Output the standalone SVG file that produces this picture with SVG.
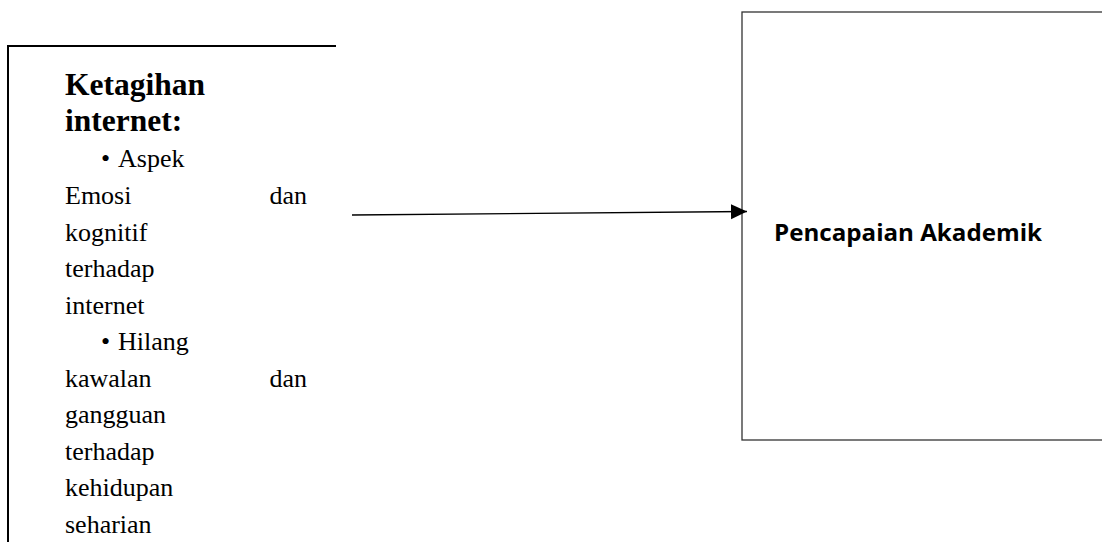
<svg xmlns="http://www.w3.org/2000/svg" width="1102" height="542" viewBox="0 0 1102 542">
<style>
.t{font-family:"Liberation Serif","Times New Roman",serif;font-size:26px;fill:#000}
.b{font-family:"Liberation Serif","Times New Roman",serif;font-size:31.5px;font-weight:bold;fill:#000}
.s{font-family:"Open Sans","Liberation Sans",sans-serif;font-size:24px;font-weight:bold;fill:#000}
</style>
<defs>
<marker id="ah" markerWidth="16" markerHeight="16" refX="16" refY="7.5" orient="auto" markerUnits="userSpaceOnUse">
<path d="M0,0 L16,7.5 L0,15 Z" fill="#000"/>
</marker>
</defs>
<rect width="1102" height="542" fill="#fff"/>
<g id="node-ketagihan">
<path d="M8,542 L8,46 L336,46" fill="none" stroke="#000" stroke-width="2"/>
<text class="b" x="65" y="95">Ketagihan</text>
<text class="b" x="65" y="131">internet:</text>
<text class="t" x="101" y="167">•</text>
<text class="t" x="118" y="167">Aspek</text>
<text class="t" x="65" y="204">Emosi</text>
<text class="t" x="307" y="204" text-anchor="end">dan</text>
<text class="t" x="65" y="241">kognitif</text>
<text class="t" x="65" y="277">terhadap</text>
<text class="t" x="65" y="314">internet</text>
<text class="t" x="101" y="350">•</text>
<text class="t" x="118" y="350">Hilang</text>
<text class="t" x="65" y="387">kawalan</text>
<text class="t" x="307" y="387" text-anchor="end">dan</text>
<text class="t" x="65" y="423">gangguan</text>
<text class="t" x="65" y="460">terhadap</text>
<text class="t" x="65" y="496">kehidupan</text>
<text class="t" x="65" y="533">seharian</text>
</g>
<g id="node-pencapaian">
<rect x="742" y="12" width="380" height="428" fill="none" stroke="#333" stroke-width="1.3"/>
<text class="s" x="774" y="241" textLength="268" lengthAdjust="spacingAndGlyphs">Pencapaian Akademik</text>
</g>
<g id="connectors">
<line x1="352" y1="215" x2="747" y2="211.5" stroke="#000" stroke-width="1.3" marker-end="url(#ah)"/>
</g>
</svg>
